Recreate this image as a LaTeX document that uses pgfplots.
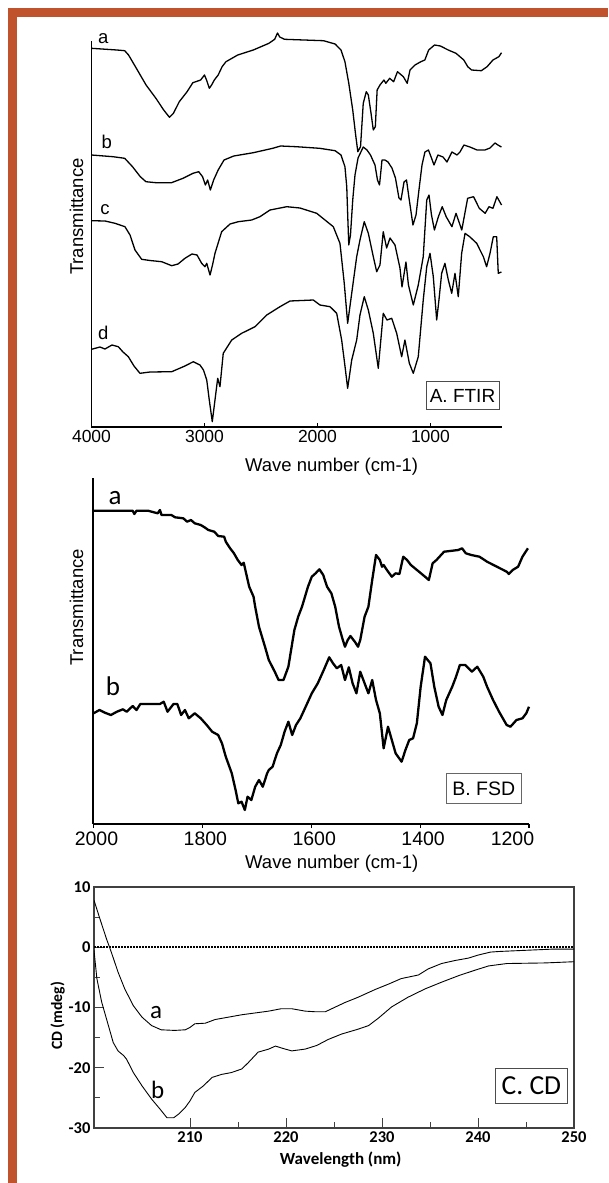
\documentclass[border=0pt]{standalone}
\usepackage{pgfplots}
\pgfplotsset{compat=1.18}
\usepackage{fontspec}
\setmainfont{Liberation Sans}
\newfontfamily\calfont{Carlito}
\definecolor{framec}{HTML}{C0532B}

\begin{document}
\begin{tikzpicture}
\useasboundingbox (0pt,0pt) rectangle (608pt,-1183pt);
\fill[white] (0pt,0pt) rectangle (608pt,-1183pt);
\fill[framec] (8pt,-8pt) rectangle (608pt,-17pt);
\fill[framec] (8pt,-8pt) rectangle (17pt,-1183pt);

% ---------------- A. FTIR
\begin{axis}[
  at={(91.5pt,-427pt)}, anchor=south west,
  scale only axis, width=410.5pt, height=386pt,
  xmin=367, xmax=4000, ymin=0, ymax=386,
  x dir=reverse,
  axis x line=bottom, axis y line=left,
  axis line style={-, line width=1.4pt},
  xtick={1000,2000,3000,4000}, ytick=\empty,
  tick align=inside, major tick length=4pt,
  tick style={black, line width=1pt},
  scaled x ticks=false,
  /pgf/number format/assume math mode=true,
  /pgf/number format/1000 sep={},
  ticklabel style={font=\fontsize{17.5}{20}\selectfont},
  xlabel={Wave number (cm-1)},
  xlabel style={at={([yshift=-39.7pt]axis description cs:0.585,0)}, anchor=center, font=\fontsize{18.5}{21}\selectfont},
  ylabel={Transmittance},
  ylabel style={at={([xshift=-15pt]axis description cs:0,0.545)}, anchor=center, font=\fontsize{18.5}{21}\selectfont},
  clip=false,
]
% a
\addplot[black, line width=1.3pt, line join=round] coordinates {
(4000,378.7) (3775,377) (3706,376.3) (3672,372) (3603,358.7) (3517,342) (3430,328.7)
(3361,317) (3310,309.7) (3275,313.7) (3223,325.3) (3154,335.3) (3103,344.3) (3034,347)
(3000,352) (2982,347) (2957,338.7) (2937,342) (2913,347) (2879,352) (2844,360.3)
(2810,365.3) (2706,372) (2568,377) (2430,383.7) (2379,387.7) (2354,394) (2334,390)
(2292,387.7) (2119,387) (1947,386.3) (1844,383) (1792,377) (1757,365.3) (1723,343.7)
(1688,317) (1664,293.7) (1643,275.3) (1619,280.3) (1595,323.7) (1568,335.3) (1550,332)
(1526,313.7) (1506,297) (1488,300.3) (1472,337) (1447,342) (1412,347) (1395,343.7)
(1361,348.7) (1326,345.3) (1292,355.3) (1240,350.3) (1206,343.7) (1181,357) (1137,362)
(1085,365.3) (1050,367) (1016,377) (964,382) (912,381) (843,377) (774,373.7) (705,367)
(670,360.3) (636,357) (550,356.3) (499,360.3) (447,367) (395,370.3) (371,374.3)
};
% b
\addplot[black, line width=1.3pt, line join=round] coordinates {
(4000,272) (3810,270.3) (3706,268.7) (3637,260.3) (3568,250.3) (3518,245.3) (3429,244.3)
(3292,244.3) (3190,248.7) (3102,253.7) (3051,255.3) (3017,250.3) (2992,242) (2972,247)
(2948,237) (2919,247) (2879,257) (2827,267) (2741,271) (2568,274.3) (2396,278.7)
(2326,281) (2188,280.3) (1981,278.7) (1844,276.3) (1792,272) (1757,260.3) (1741,240.3)
(1732,210.3) (1723,182) (1708,192) (1688,227) (1668,252) (1641,269) (1595,280)
(1562,277) (1531,272) (1491,262) (1469,247) (1451,242) (1429,267) (1403,267) (1376,265)
(1341,259) (1310,249) (1279,229) (1261,227) (1234,245) (1212,247) (1190,229) (1155,202)
(1128,212) (1102,237) (1075,262) (1049,275) (1018,277) (991,269) (969,262) (934,272)
(889,270) (854,265) (810,275) (765,272) (739,275) (704,282) (651,280) (588,277)
(518,277) (473,279) (429,284) (403,282) (372,280)
};
% c
\addplot[black, line width=1.3pt, line join=round] coordinates {
(4000,206.3) (3880,206) (3792,203.7) (3704,200.3) (3659,192) (3615,177) (3556,167.7)
(3482,166.5) (3379,165.3) (3290,161.3) (3234,163) (3173,168.7) (3111,173) (3066,172)
(3025,163.7) (2996,160.3) (2980,163.7) (2951,152) (2929,162) (2907,173.7) (2848,195.3)
(2774,203) (2701,205.3) (2582,207) (2509,210.3) (2420,217) (2272,220.3) (2155,219)
(2007,213.7) (1860,200.3) (1801,183.7) (1763,143.7) (1733,103.7) (1697,133.7)
(1653,170.3) (1624,187) (1586,205.3) (1550,193.7) (1506,170.3) (1476,155.3) (1460,159)
(1447,162) (1418,195.3) (1388,179) (1358,189) (1314,182) (1270,159) (1252,140)
(1217,165) (1195,142) (1152,122) (1108,142) (1064,170.3) (1033,227) (1013,232)
(991,212) (965,197) (930,210.3) (896,220.3) (861,210.3) (810,200.3) (774,213.7)
(723,197) (671,228.7) (619,230.3) (568,218.7) (516,213.7) (482,220.3) (447,218.7)
(412,230.3) (371,222)
};
% d
\addplot[black, line width=1.3pt, line join=round] coordinates {
(4000,77.7) (3925,80) (3881,78) (3819,82) (3763,80.3) (3721,75) (3674,70.3) (3624,61)
(3571,53.7) (3482,55) (3290,55.3) (3173,61) (3099,65.3) (3040,62) (3009,57) (2980,47)
(2960,29) (2931,5.3) (2907,27) (2883,48.7) (2863,40.3) (2834,73.7) (2759,87) (2671,93.7)
(2553,100.3) (2509,105.3) (2449,112) (2332,120.3) (2243,126) (2037,127) (1978,122)
(1889,120.3) (1830,113.7) (1786,87) (1756,60.3) (1733,38.7) (1697,67) (1653,87)
(1624,112) (1586,130.3) (1550,117) (1506,93.7) (1462,58.7) (1418,113.7) (1385,107)
(1343,108.7) (1299,93.7) (1255,70.3) (1226,87) (1187,63.7) (1152,53.7) (1108,70.3)
(1064,127) (1033,160.3) (1004,173.7) (975,150.3) (945,107) (925,127) (901,153.7)
(872,163.7) (842,147) (812,133.7) (783,153.7) (754,130.3) (724,173.7) (694,193.7)
(650,190) (591,183.7) (532,170.3) (503,160.3) (473,173.7) (444,190.3) (414,190.3)
(400,153.7) (372,155)
};
\end{axis}

\begin{scope}[font=\fontsize{18.5}{20}\selectfont]
\node at (103.3pt,-38.3pt) {a};
\node at (106.7pt,-141.7pt) {b};
\node at (105pt,-210pt) {c};
\node at (103.3pt,-333.3pt) {d};
\end{scope}
\node[draw=black!70, line width=0.8pt, minimum width=73pt, minimum height=28pt, inner sep=0pt,
      font=\fontsize{19}{21}\selectfont] at (462.5pt,-395.8pt) {A. FTIR};

% ---------------- B. FSD
\begin{axis}[
  at={(93.5pt,-824pt)}, anchor=south west,
  scale only axis, width=435.5pt, height=346pt,
  xmin=1200, xmax=2000, ymin=0, ymax=346,
  x dir=reverse,
  axis x line=bottom, axis y line=left,
  axis line style={-, line width=2pt},
  xtick={1200,1400,1600,1800,2000}, ytick=\empty,
  xticklabels={{\makebox[0pt]{\hspace*{-39pt}1200}},1400,1600,1800,2000},
  xticklabel style={xshift=3pt},
  tick align=outside, major tick length=4pt,
  tick style={black, line width=1.2pt},
  ticklabel style={font=\fontsize{19.5}{22}\selectfont},
  xlabel={Wave number (cm-1)},
  xlabel style={at={([yshift=-39.3pt]axis description cs:0.547,0)}, anchor=center, font=\fontsize{18.5}{21}\selectfont},
  ylabel={Transmittance},
  ylabel style={at={([xshift=-17pt]axis description cs:0,0.626)}, anchor=center, font=\fontsize{18.5}{21}\selectfont},
  clip=false,
]
% a
\addplot[black, line width=2.3pt, line join=round] coordinates {
(2000,313.3) (1928,313.3) (1925,310) (1921,313.3) (1900,313.3) (1882,310.7) (1878,314)
(1875,309) (1857,309) (1850,306.7) (1835,305.7) (1828,302.3) (1821,304) (1814,300.7)
(1803,299) (1796,296.7) (1789,294) (1778,292.3) (1771,288) (1760,287.3) (1757,282.3)
(1749,275.7) (1742,270.7) (1735,264) (1728,259) (1724,261.3) (1721,254) (1714,237.3)
(1706,227.3) (1703,217.3) (1696,197.3) (1685,177.3) (1678,164) (1667,152.3) (1660,144)
(1651,144) (1642,157.3) (1638,170.7) (1631,194) (1624,207.3) (1617,217.3) (1606,237.3)
(1599,247.3) (1592,250.7) (1585,254.7) (1578,249) (1571,237.3) (1563,230.7) (1556,217.3)
(1549,197.3) (1542,184) (1538,177.3) (1533,184) (1528,188) (1520,182.3) (1514,177.3)
(1510,184) (1502,207.3) (1495,217.3) (1488,244) (1481,269) (1474,264) (1470,257.3)
(1467,259) (1461,254) (1452,247.3) (1445,250.7) (1438,250) (1431,267.3) (1424,264)
(1417,259) (1402,252.3) (1391,247.3) (1384,244) (1377,260.7) (1370,264) (1356,272.3)
(1330,274) (1323,275.7) (1316,270.7) (1306,269) (1291,267.3) (1277,262.3) (1259,257.3)
(1241,252.3) (1237,250) (1230,254) (1220,257.3) (1212,267.3) (1202,275.7)
};
% b
\addplot[black, line width=2.3pt, line join=round] coordinates {
(2000,110.7) (1989,114) (1979,111.3) (1968,109) (1957,112.3) (1946,114.7) (1939,112.3)
(1928,118) (1921,114) (1914,120) (1896,120) (1878,120) (1871,122.3) (1864,112.3)
(1853,120) (1846,120) (1839,109) (1832,114) (1825,105.7) (1814,110.7) (1803,105.7)
(1792,99) (1782,92.3) (1771,89) (1764,80.7) (1757,67.3) (1746,50.7) (1739,34)
(1734,20.7) (1728,22.3) (1722,14) (1717,27.3) (1710,24) (1703,37.3) (1696,44)
(1689,37.3) (1681,50.7) (1678,54) (1671,57.3) (1663,70.7) (1656,79) (1649,92.3)
(1642,102.3) (1635,89) (1628,99) (1620,105.7) (1613,114) (1606,122.3) (1599,130.7)
(1588,140.7) (1577,154) (1567,166.7) (1560,160.7) (1553,155.7) (1545,159) (1538,144)
(1531,156.7) (1524,140.7) (1517,130.7) (1510,152.3) (1502,140.7) (1495,130.7) (1488,144)
(1481,124) (1474,110.7) (1467,75.7) (1459,97.3) (1452,84) (1445,70.7) (1434,62.3)
(1427,74) (1420,84) (1413,85.7) (1406,100.7) (1399,137.3) (1391,167.3) (1381,160.7)
(1374,137.3) (1366,117.3) (1359,109) (1352,124) (1341,137.3) (1334,147.3) (1327,159)
(1317,159) (1305,152.3) (1295,157.3) (1284,147.3) (1277,137.3) (1266,124) (1255,112.3)
(1241,99) (1234,97.3) (1223,104) (1212,105.7) (1205,110.7) (1200,117.3)
};
\end{axis}

\begin{scope}[font=\calfont\fontsize{27}{30}\selectfont]
\node at (115pt,-498.3pt) {a};
\node at (113pt,-686.7pt) {b};
\end{scope}
\node[draw=black!60, line width=0.8pt, minimum width=75.4pt, minimum height=30pt, inner sep=0pt,
      font=\fontsize{19.5}{22}\selectfont] at (483.7pt,-788.3pt) {B. FSD};

% ---------------- C. CD
\begin{axis}[
  at={(94pt,-1128pt)}, anchor=south west,
  scale only axis, width=480pt, height=241pt,
  xmin=200, xmax=250, ymin=-30, ymax=10,
  axis line style={black!75, line width=1.4pt},
  xtick={210,220,230,240,250}, minor x tick num=1,
  ytick={-30,-20,-10,0,10}, minor y tick num=1,
  tick pos=left, tick align=inside,
  major tick length=10pt, minor tick length=6pt,
  tick style={black!75, line width=1pt},
  /pgf/number format/assume math mode=true,
  ticklabel style={font=\calfont\bfseries\fontsize{16.5}{18}\selectfont},
  xlabel={Wavelength (nm)},
  xlabel style={at={([yshift=-32pt]axis description cs:0.514,0)}, anchor=center, font=\calfont\bfseries\fontsize{17}{19}\selectfont},
  ylabel={CD (mdeg)},
  ylabel style={at={([xshift=-36.3pt]axis description cs:0,0.465)}, anchor=center, font=\calfont\bfseries\fontsize{15.7}{18}\selectfont},
]
\addplot[black, line width=1.6pt, dash pattern=on 1.6pt off 1.4pt] coordinates {(200,0) (250,0)};
% a
\addplot[black, line width=0.9pt, line join=round] coordinates {
(200,7.8) (200.6,4.8) (201.3,1.4) (201.8,-0.8) (202.5,-4.1) (203.2,-6.9) (204.1,-9.7)
(205,-11.6) (206,-13) (207,-13.7) (208.4,-13.8) (209.5,-13.7) (210,-13.3) (210.5,-12.7)
(211.6,-12.6) (212.6,-12) (214,-11.6) (215.4,-11.2) (216.8,-10.9) (218.2,-10.6)
(219.5,-10.2) (220.6,-10.2) (222,-10.6) (223,-10.7) (224.1,-10.7) (224.9,-10.1)
(226.1,-9.2) (227.5,-8.3) (229.3,-7) (230.7,-6.1) (232,-5.2) (233.8,-4.6) (234.8,-3.6)
(236.2,-2.7) (237.6,-2.2) (239,-1.8) (240,-1.3) (241.3,-0.8) (242.2,-0.7) (245,-0.5)
(247.9,-0.3) (250,-0.3)
};
% b
\addplot[black, line width=0.9pt, line join=round] coordinates {
(200,-0.5) (200.3,-5.2) (200.8,-9.1) (201.5,-13) (202,-15.8) (202.5,-17.2) (203.1,-18)
(203.4,-18.6) (204.1,-20.8) (205,-23) (206,-25.2) (206.9,-26.9) (207.6,-28.3)
(208.3,-28.3) (208.8,-27.7) (209.5,-26.6) (210,-25.5) (210.5,-24.1) (211.4,-23)
(212.3,-21.6) (213.3,-21.1) (214.3,-20.8) (215.4,-20.2) (216.1,-19.1) (217.1,-17.4)
(218.2,-16.9) (218.9,-16.4) (219.7,-16.8) (220.6,-17.2) (222,-16.9) (223.2,-16.3)
(224.4,-15.3) (225.8,-14.4) (227.5,-13.6) (228.6,-13) (229.6,-11.8) (231,-9.9)
(232.7,-8.3) (234.5,-6.9) (236.2,-5.8) (238,-4.7) (239.7,-3.8) (241.1,-3.1) (243,-2.7)
(247,-2.6) (250,-2.4)
};
\end{axis}

\begin{scope}[font=\calfont\fontsize{25}{28}\selectfont]
\node at (156pt,-1012.7pt) {a};
\node at (157.7pt,-1090pt) {b};
\end{scope}
\node[draw=black!70, line width=0.9pt, minimum width=71.3pt, minimum height=35pt, inner sep=0pt,
      font=\calfont\fontsize{27.5}{30}\selectfont] at (531.4pt,-1085.8pt) {C. CD};

\end{tikzpicture}
\end{document}
